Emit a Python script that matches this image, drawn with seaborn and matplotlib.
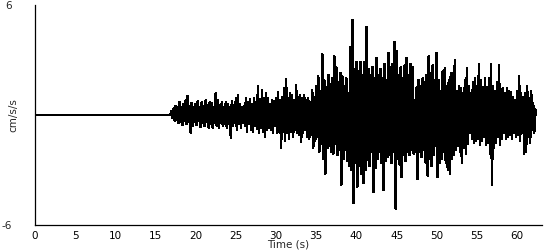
import numpy as np
import pandas as pd
import matplotlib
matplotlib.use("Agg")
import matplotlib.pyplot as plt
import seaborn as sns

# Quiet pre-event record (cm/s/s)
quiet_start = 0.0
quiet_end = 16.8

# Strong-motion part, sampled every 0.25 s starting at 17.0 s
t_start = 17.0
t_step = 0.25
upper = [
    0.2, 0.35, 0.5, 0.4,     0.7, 0.45, 0.6, 0.8,     1.05, 0.5, 0.65, 0.45,
    0.6, 0.75, 0.4, 0.7,     0.5, 0.8, 0.55, 0.7,     0.65, 0.45, 1.2, 0.8,
    0.55, 0.7, 0.45, 0.7,    0.6, 0.4, 0.75, 0.55,    0.9, 1.1, 0.6, 0.45,
    0.5, 0.9, 0.7, 0.85,     0.6, 0.9, 0.7, 1.58,     0.8, 1.36, 0.9, 1.2,
    0.9, 0.6, 0.8, 0.75,     0.9, 1.25, 0.8, 1.0,     1.45, 1.96, 0.9, 1.2,
    1.1, 0.8, 1.64, 1.0,     1.1, 0.9, 1.1, 0.8,      0.9, 0.7, 1.36, 1.0,
    1.6, 2.1, 1.3, 3.3,      1.9, 1.5, 2.2, 1.7,      2.0, 3.2, 2.6, 1.8,
    2.3, 2.1, 1.6, 2.0,      1.2, 3.7, 5.2, 2.5,      2.9, 2.4, 2.9, 2.2,
    2.9, 4.8, 2.5, 2.2,      2.6, 2.0, 3.1, 2.2,      2.5, 2.0, 2.8, 1.9,
    3.4, 2.6, 2.8, 4.0,      3.5, 2.2, 2.6, 2.0,      2.7, 3.1, 2.2, 2.8,
    2.6, 0.8, 1.5, 1.9,      1.6, 2.0, 1.8, 2.2,      3.2, 2.3, 2.7, 1.9,
    3.4, 1.9, 1.3, 2.4,      2.55, 1.6, 1.9, 2.3,     2.3, 3.0, 1.3, 1.6,
    1.45, 1.2, 1.9, 2.55,    1.55, 1.2, 1.8, 2.0,     1.6, 2.8, 1.9, 1.5,
    2.0, 1.5, 2.0, 2.8,      1.6, 1.3, 1.8, 2.7,      1.4, 1.45, 1.2, 1.45,
    1.3, 1.27, 1.0, 0.8,     1.3, 2.1, 1.2, 1.0,      1.2, 1.55, 0.9, 1.3,
    0.65, 0.3,
]
lower = [
    -0.15, -0.3, -0.25, -0.45,  -0.35, -0.55, -0.3, -0.5,   -0.4, -0.95, -0.6, -0.35,
    -0.55, -0.3, -0.65, -0.45,  -0.6, -0.4, -0.7, -0.5,     -0.7, -0.45, -0.6, -0.7,
    -0.4, -0.6, -0.5, -0.7,     -0.5, -1.25, -0.6, -0.4,    -0.8, -0.5, -0.7, -0.45,
    -0.6, -0.9, -0.5, -0.8,     -0.9, -0.6, -0.75, -1.0,    -0.7, -0.9, -1.2, -0.8,
    -0.7, -0.8, -1.0, -0.6,     -1.0, -0.9, -1.8, -0.9,     -1.4, -1.0, -1.3, -0.9,
    -1.2, -0.8, -1.0, -1.1,     -1.45, -1.0, -0.8, -1.2,    -1.3, -1.1, -1.8, -1.4,
    -1.2, -2.0, -1.6, -2.4,     -3.2, -1.8, -1.7, -2.0,     -2.1, -1.6, -2.2, -1.9,
    -3.8, -2.4, -1.9, -2.5,     -2.8, -3.0, -4.8, -2.6,     -3.9, -2.8, -3.2, -3.7,
    -3.0, -2.45, -2.8, -2.0,    -4.2, -2.9, -2.4, -2.0,     -2.6, -4.1, -2.5, -2.3,
    -2.2, -2.6, -2.0, -5.1,     -2.4, -2.7, -3.4, -2.2,     -2.5, -2.0, -2.2, -1.9,
    -2.1, -2.0, -3.5, -2.0,     -2.3, -1.9, -2.6, -3.3,     -2.4, -2.8, -2.2, -1.7,
    -3.4, -2.6, -2.4, -2.0,     -2.6, -3.0, -3.2, -2.4,     -2.2, -1.9, -1.7, -2.0,
    -2.6, -1.8, -2.1, -1.6,     -1.0, -1.3, -1.5, -1.4,     -1.3, -1.65, -1.4, -1.2,
    -1.65, -1.5, -2.1, -3.8,    -1.8, -1.5, -1.2, -1.65,    -1.3, -1.0, -1.3, -1.2,
    -1.1, -1.3, -1.0, -1.2,     -1.1, -1.4, -0.9, -2.1,     -2.0, -1.2, -1.5, -0.8,
    -1.0, 0.0,
]
x_ticks = [0, 5, 10, 15, 20, 25, 30, 35, 40, 45, 50, 55, 60]
y_ticks = [-6, 6]

# Build the trace: flat part, then alternating peak/trough per sample
times = [quiet_start, quiet_end]
vals = [0.0, 0.0]
for i, (u, l) in enumerate(zip(upper, lower)):
    t = t_start + i * t_step
    times += [t, t + t_step / 2]
    vals += [u, l]
df = pd.DataFrame({"Time (s)": times, "cm/s/s": vals})

sns.set_style("white")
plt.rcParams["font.family"] = ["DejaVu Sans"]

fig = plt.figure(figsize=(5.5, 2.5), dpi=100)
ax = fig.add_axes([35 / 550, 1 - 225 / 250, (542 - 35) / 550, 220 / 250])
sns.lineplot(data=df, x="Time (s)", y="cm/s/s", sort=False, estimator=None,
             color="black", linewidth=1.1, antialiased=False, ax=ax)

ax.set_xlim(0, 63.1)
ax.set_ylim(-6, 6)
ax.set_xticks(x_ticks)
ax.set_xticklabels([str(v) for v in x_ticks], fontsize=7.5)
ax.set_yticks(y_ticks)
ax.set_yticklabels([str(v) for v in y_ticks], fontsize=7.5)
ax.tick_params(axis="y", length=0, pad=17)
ax.tick_params(axis="x", length=3, width=0.8, pad=1, direction="out", colors="black")
ax.set_xlabel("Time (s)", fontsize=7.5, labelpad=-1)
ax.set_ylabel("cm/s/s", fontsize=7.5)
ax.yaxis.set_label_coords((18 - 35) / 507, 0.5)
for s in ["top", "right"]:
    ax.spines[s].set_visible(False)
for s in ["left", "bottom"]:
    ax.spines[s].set_color("black")
    ax.spines[s].set_linewidth(0.9)
ax.grid(False)

fig.savefig("out.png", dpi=100)
